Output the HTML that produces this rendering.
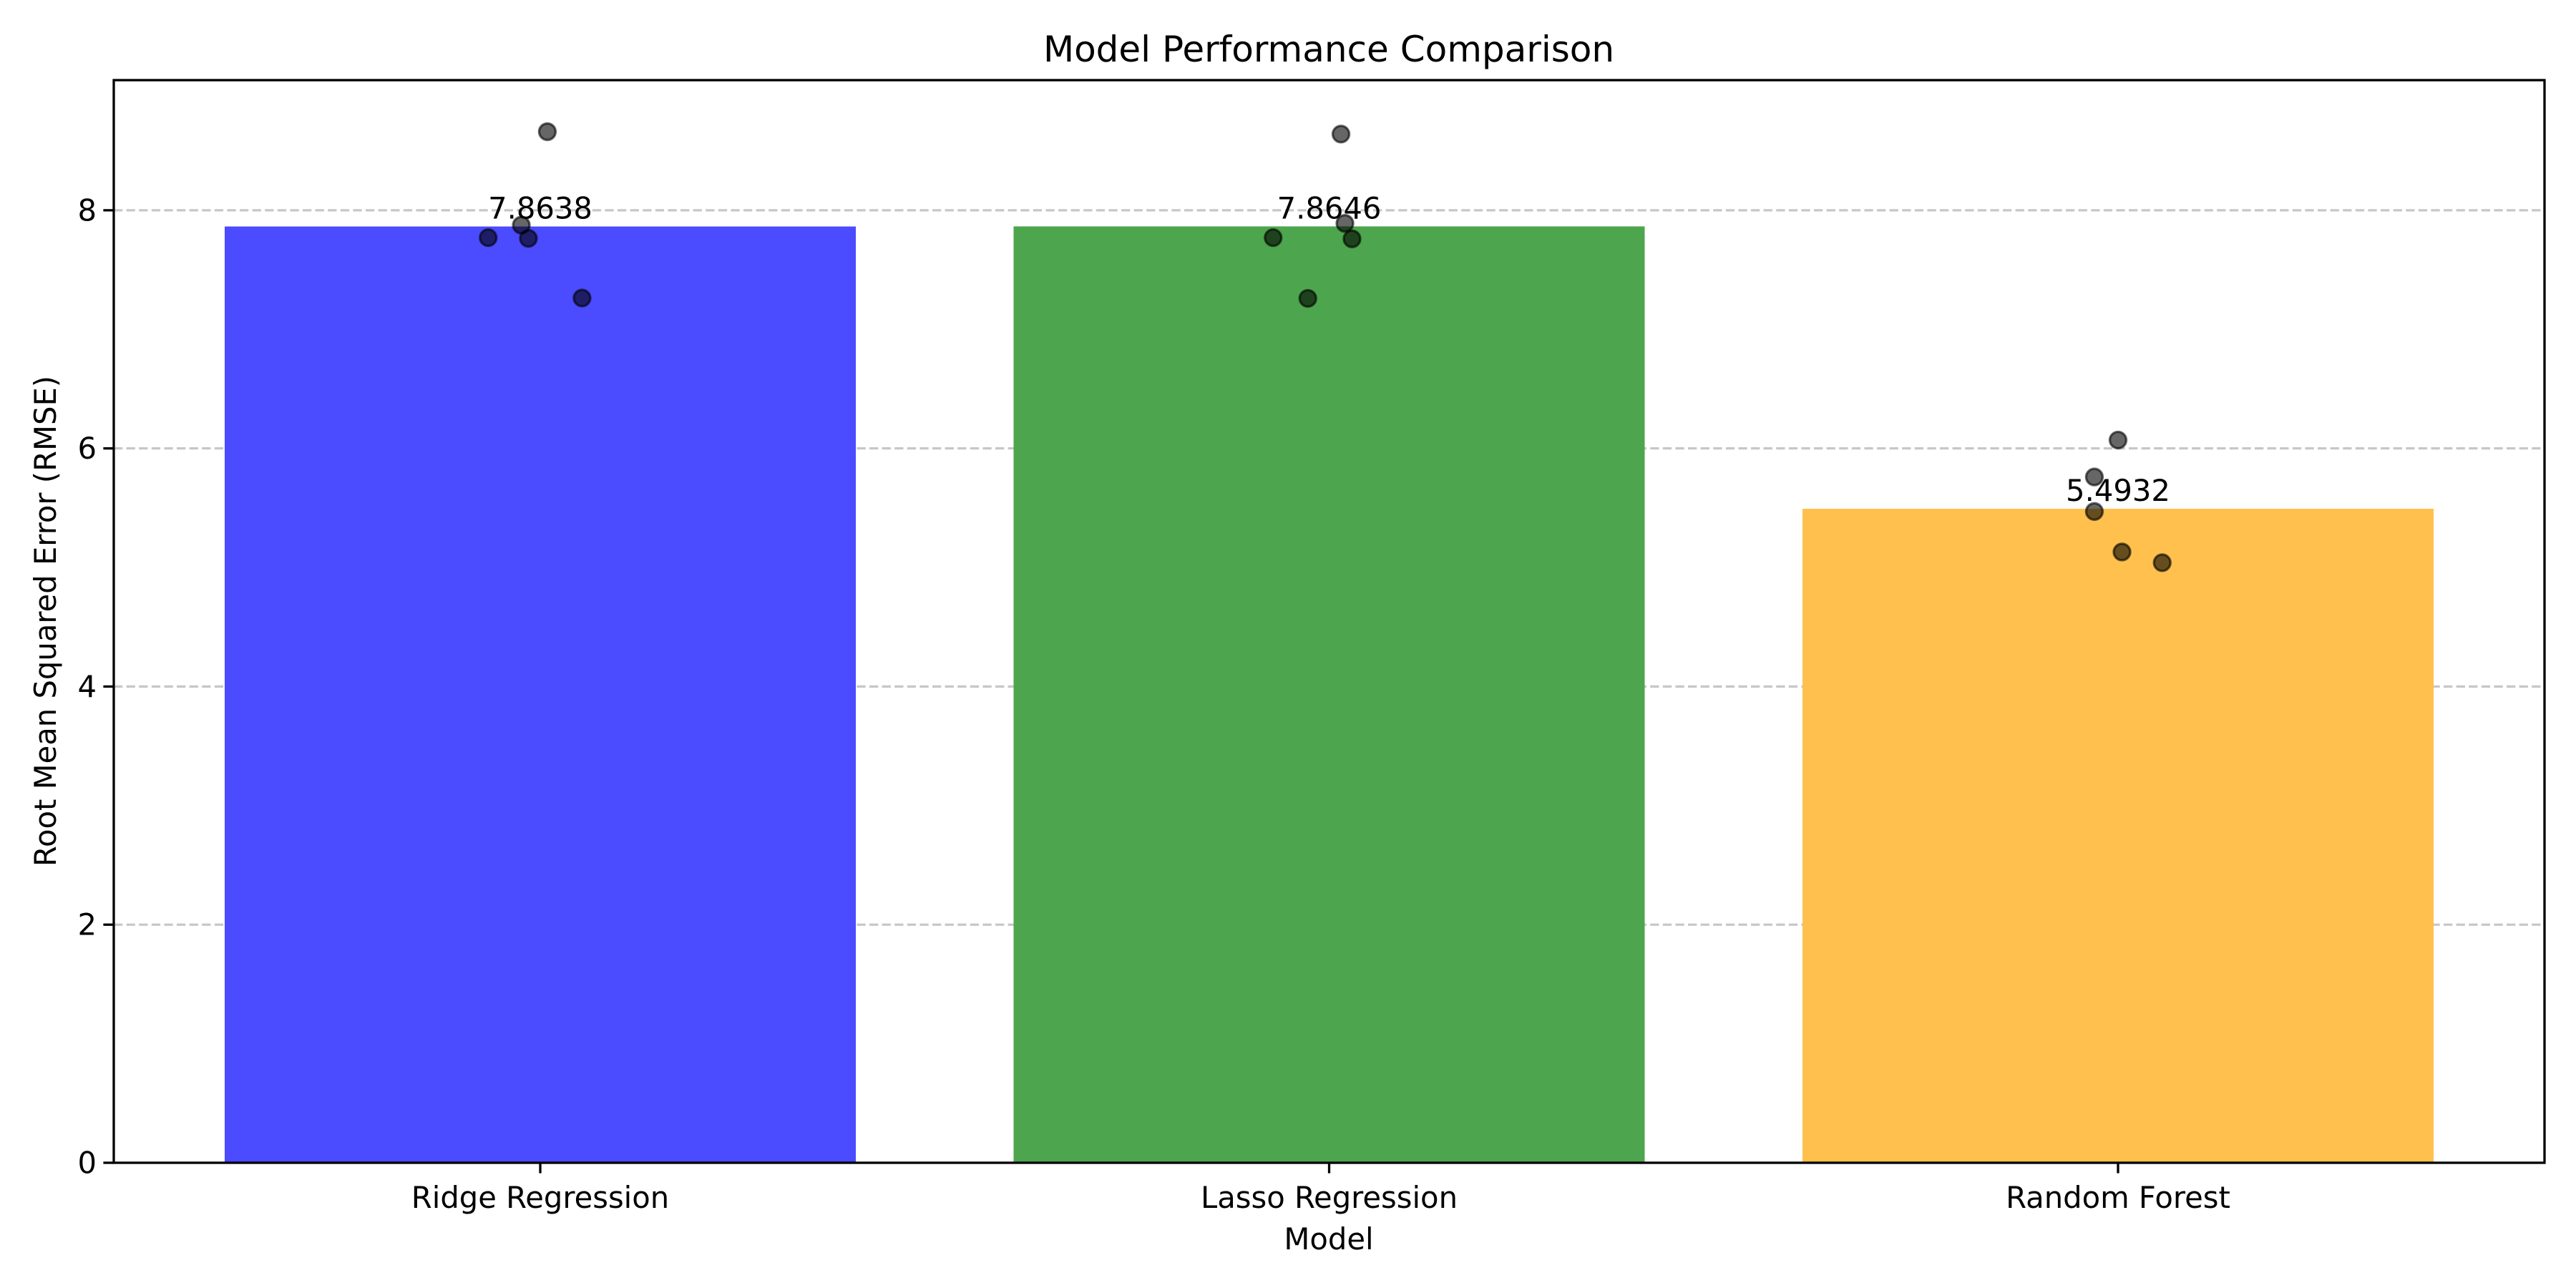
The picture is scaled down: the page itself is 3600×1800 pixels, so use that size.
<!DOCTYPE html>
<html><head><meta charset="utf-8"><style>
html,body{margin:0;padding:0;background:#fff}
svg{display:block;font-family:"DejaVu Sans","Liberation Sans",sans-serif}
</style></head><body>
<svg id="chart" width="3600" height="1800" viewBox="0 0 3600 1800" xmlns="http://www.w3.org/2000/svg">
<rect width="3600" height="1800" fill="#fff"/>
<g id="grid"></g>
<g id="bars"></g>
<g id="points"></g>
<g id="labels"></g>
<g id="axes"></g>
<text x="1857" y="86" font-size="50" text-anchor="middle">Model Performance Comparison</text>
<text x="1857" y="1746" font-size="41.7" text-anchor="middle">Model</text>
<text transform="translate(78,868) rotate(-90)" font-size="41.7" text-anchor="middle">Root Mean Squared Error (RMSE)</text>
</svg>
<script>
const categories = ["Ridge Regression", "Lasso Regression", "Random Forest"];
const meanValues = [7.8638, 7.8646, 5.4932];
const valueLabels = ["7.8638", "7.8646", "5.4932"];
const barColors = ["#4b4bff", "#4da64d", "#ffc04d"];
const ridgeFolds = [7.77, 7.875, 7.764, 8.66, 7.263];
const ridgeJitter = [-0.066, -0.024, -0.015, 0.009, 0.053];
const lassoFolds = [7.77, 7.26, 8.64, 7.89, 7.76];
const lassoJitter = [-0.071, -0.027, 0.015, 0.02, 0.029];
const forestFolds = [6.07, 5.76, 5.47, 5.13, 5.04];
const forestJitter = [0.0, -0.03, -0.03, 0.005, 0.056];
const yTicks = [0, 2, 4, 6, 8];

const NS = "http://www.w3.org/2000/svg";
const L = 159, R = 3556, T = 112, B = 1625;
const xMin = -0.5406, xMax = 2.5406, yMin = 0, yMax = 9.093;
function xs(v){ return L + (v - xMin) / (xMax - xMin) * (R - L); }
function ys(v){ return B - (v - yMin) / (yMax - yMin) * (B - T); }
function mk(tag, attrs, parent){
  const e = document.createElementNS(NS, tag);
  for (const k in attrs) e.setAttribute(k, attrs[k]);
  parent.appendChild(e); return e;
}
const grid = document.getElementById("grid");
const bars = document.getElementById("bars");
const pts = document.getElementById("points");
const labs = document.getElementById("labels");
const axes = document.getElementById("axes");

yTicks.forEach(t => {
  if (t > 0) {
    const g = mk("line", {x1:L, x2:R, y1:ys(t), y2:ys(t), stroke:"#b0b0b0", "stroke-width":3.3, "stroke-dasharray":"12.3,5.3", opacity:0.7}, grid);
    
    
  }
  const tk = mk("line", {x1:L-14.6, x2:L, y1:ys(t), y2:ys(t), stroke:"#000", "stroke-width":3.3}, axes);
  
  
  const tl = mk("text", {x:L-24, y:ys(t)+14.5, "font-size":41.7, "text-anchor":"end"}, axes);
  tl.textContent = t;
  
  
});

const folds = [ridgeFolds, lassoFolds, forestFolds];
const jitters = [ridgeJitter, lassoJitter, forestJitter];
categories.forEach((c, i) => {
  const x0 = xs(i - 0.4), x1 = xs(i + 0.4);
  const b = mk("rect", {x:x0, y:ys(meanValues[i]), width:x1-x0, height:ys(0)-ys(meanValues[i]), fill:barColors[i]}, bars);
  
  
  folds[i].forEach((v, j) => {
    const p = mk("circle", {cx:xs(i + jitters[i][j]), cy:ys(v), r:11.5, fill:"#000", "fill-opacity":0.6, stroke:"#000", "stroke-opacity":0.6, "stroke-width":3.3}, pts);
    
    
  });
  const vl = mk("text", {x:xs(i), y:ys(meanValues[i]) - 11, "font-size":41.7, "text-anchor":"middle"}, labs);
  vl.textContent = valueLabels[i];
  
  
  const tk = mk("line", {x1:xs(i), x2:xs(i), y1:B, y2:B+14.6, stroke:"#000", "stroke-width":3.3}, axes);
  
  
  const xl = mk("text", {x:xs(i), y:B+63, "font-size":41.7, "text-anchor":"middle"}, axes);
  xl.textContent = c;
  
  
});
const frame = mk("rect", {x:L, y:T, width:R-L, height:B-T, fill:"none", stroke:"#000", "stroke-width":3.3}, axes);


</script>
</body></html>
